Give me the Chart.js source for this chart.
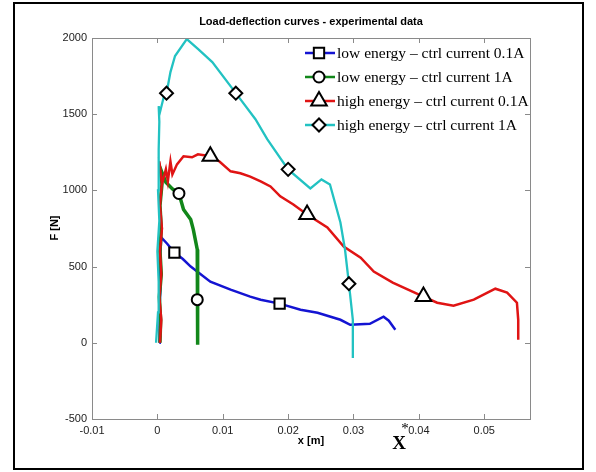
<!DOCTYPE html>
<html>
<head>
<meta charset="utf-8">
<script src="https://cdn.jsdelivr.net/npm/chart.js@4.4.1/dist/chart.umd.min.js"></script>
<style>
  html, body { margin: 0; padding: 0; background: #fff; }
  #wrap { width: 596px; height: 472px; }
</style>
</head>
<body>
<div id="wrap"><canvas id="c" width="596" height="472"></canvas></div>
<script>
// values
const seriesLabels = [
  'low energy \u2013 ctrl current 0.1A',
  'low energy \u2013 ctrl current 1A',
  'high energy \u2013 ctrl current 0.1A',
  'high energy \u2013 ctrl current 1A',
]

const lowE01_x = [0.0003, 0.0004, 0.0003, 0.0005, 0.0003, 0.0005, 0.0006, 0.0015, 0.0026, 0.0039, 0.0051, 0.0081, 0.0112, 0.0142, 0.0158, 0.0187, 0.0219, 0.0245, 0.0280, 0.0295, 0.0325, 0.0346, 0.0354, 0.0364]
const lowE01_F = [0, 120, 250, 380, 500, 620, 691, 650, 592, 550, 500, 401, 349, 303, 283, 257, 217, 197, 151, 118, 125, 171, 145, 86]
const lowE01_marks = [8, 15]

const lowE1_x = [0.0004, 0.0005, 0.0003, 0.0006, 0.0004, 0.0006, 0.0004, 0.0007, 0.0005, 0.0013, 0.0023, 0.0033, 0.0040, 0.0051, 0.0055, 0.0061, 0.0062, 0.0062, 0.0061, 0.0062, 0.0061]
const lowE1_F = [0, 150, 300, 450, 600, 750, 900, 1040, 1140, 1053, 1010, 980, 875, 809, 743, 612, 546, 400, 283, 39, -13]
const lowE1_marks = [11, 18]

const highE01_x = [0.0004, 0.0006, 0.0003, 0.0006, 0.0004, 0.0007, 0.0004, 0.0007, 0.0003, 0.0007, 0.0013, 0.0016, 0.0020, 0.0023, 0.0030, 0.0040, 0.0053, 0.0062, 0.0081, 0.0095, 0.0112, 0.0127, 0.0142, 0.0158, 0.0173, 0.0188, 0.0208, 0.0229, 0.0260, 0.0285, 0.0311, 0.0331, 0.0360, 0.0407, 0.0428, 0.0453, 0.0484, 0.0517, 0.0535, 0.0550, 0.0552, 0.0552]
const highE01_F = [0, 150, 300, 450, 600, 750, 900, 1050, 1190, 1040, 1138, 1059, 1190, 1105, 1171, 1224, 1217, 1237, 1224, 1190, 1125, 1112, 1090, 1059, 1026, 961, 908, 842, 757, 632, 559, 467, 395, 303, 263, 243, 283, 355, 329, 263, 151, 20]
const highE01_marks = [18, 27, 33]

const highE1_x = [-0.0002, 0.0001, 0.0002, 0.0000, 0.0003, 0.0001, 0.0002, 0.0003, 0.0002, 0.0004, 0.0010, 0.0014, 0.0020, 0.0027, 0.0045, 0.0062, 0.0084, 0.0120, 0.0150, 0.0168, 0.0200, 0.0234, 0.0251, 0.0264, 0.0280, 0.0287, 0.0293, 0.0299, 0.0299]
const highE1_F = [0, 200, 400, 600, 800, 1000, 1270, 1450, 1553, 1513, 1618, 1638, 1776, 1882, 1993, 1928, 1842, 1638, 1467, 1336, 1138, 1013, 1072, 1039, 789, 612, 388, 151, -99]
const highE1_marks = [11, 17, 20, 26]

const xTicks = [-0.01, 0, 0.01, 0.02, 0.03, 0.04, 0.05]
const yTicks = [-500, 0, 500, 1000, 1500, 2000]

const FONT = "'Liberation Sans', Arial, sans-serif"
const SERIF = "'Liberation Serif', 'Times New Roman', serif"

function toPoints(xs, ys) {
  return xs.map((x, i) => ({ x: x, y: ys[i] }))
}

function makeSet(label, xs, ys, marks, color, width, style, radius, order) {
  return {
    label: label,
    data: toPoints(xs, ys),
    borderColor: color,
    borderWidth: width,
    showLine: true,
    tension: 0,
    fill: false,
    pointStyle: style,
    pointRadius: (ctx) => (marks.includes(ctx.dataIndex) ? radius : 0),
    pointHoverRadius: (ctx) => (marks.includes(ctx.dataIndex) ? radius : 0),
    pointBackgroundColor: '#ffffff',
    pointBorderColor: '#000000',
    pointBorderWidth: 2,
    legendRadius: radius,
    order: order,
  }
}

// frame, box ticks, title, labels and the legend (MATLAB look)
const decorations = {
  id: 'decorations',
  afterDraw(chart) {
    const { ctx, chartArea: a, scales } = chart
    ctx.save()

    // axes box
    ctx.strokeStyle = '#8a8a8a'
    ctx.lineWidth = 1
    ctx.strokeRect(a.left + 0.5, a.top + 0.5, a.right - a.left, a.bottom - a.top)

    // inward ticks on all four sides
    ctx.beginPath()
    xTicks.forEach((v) => {
      const px = Math.round(scales.x.getPixelForValue(v)) + 0.5
      ctx.moveTo(px, a.bottom); ctx.lineTo(px, a.bottom - 5)
      ctx.moveTo(px, a.top); ctx.lineTo(px, a.top + 5)
    })
    yTicks.forEach((v) => {
      const py = Math.round(scales.y.getPixelForValue(v)) + 0.5
      ctx.moveTo(a.left, py); ctx.lineTo(a.left + 5, py)
      ctx.moveTo(a.right, py); ctx.lineTo(a.right - 5, py)
    })
    ctx.stroke()

    // title and axis labels
    ctx.fillStyle = '#000'
    ctx.textAlign = 'center'
    ctx.textBaseline = 'middle'
    ctx.font = 'bold 11px ' + FONT
    ctx.fillText('Load-deflection curves - experimental data', (a.left + a.right) / 2, 22)
    ctx.fillText('x [m]', 311, 441)
    ctx.save()
    ctx.translate(55, 228)
    ctx.rotate(-Math.PI / 2)
    ctx.fillText('F [N]', 0, 0)
    ctx.restore()

    // X* mark
    ctx.font = 'bold 19px ' + SERIF
    ctx.fillText('X', 399, 444)
    ctx.font = '15px ' + SERIF
    ctx.fillText('*', 405, 429)

    // legend
    ctx.font = '15.5px ' + SERIF
    ctx.textAlign = 'left'
    chart.data.datasets.forEach((ds, i) => {
      const y = 53 + i * 24
      ctx.strokeStyle = ds.borderColor
      ctx.lineWidth = 2.5
      ctx.beginPath()
      ctx.moveTo(305, y); ctx.lineTo(335, y)
      ctx.stroke()
      ctx.fillStyle = '#ffffff'
      ctx.strokeStyle = '#000000'
      ctx.lineWidth = 2
      Chart.helpers.drawPoint(ctx, {
        pointStyle: ds.pointStyle,
        radius: ds.legendRadius,
        rotation: 0,
        borderWidth: 2,
      }, 319, y)
      ctx.fillStyle = '#000'
      ctx.fillText(ds.label, 337, y + 1)
    })

    // outer black frame
    ctx.strokeStyle = '#000'
    ctx.lineWidth = 2
    ctx.strokeRect(14, 3, 569, 466)
    ctx.restore()
  },
}

const datasets = [
  makeSet(seriesLabels[0], lowE01_x, lowE01_F, lowE01_marks, '#1414d2', 2.5, 'rect', 7.3, 3),
  makeSet(seriesLabels[1], lowE1_x, lowE1_F, lowE1_marks, '#12871a', 3.5, 'circle', 5.5, 2),
  makeSet(seriesLabels[2], highE01_x, highE01_F, highE01_marks, '#e01414', 2.5, 'triangle', 9, 1),
  makeSet(seriesLabels[3], highE1_x, highE1_F, highE1_marks, '#22c2c2', 2.3, 'rectRot', 6.5, 0),
]

new Chart(document.getElementById('c'), {
  type: 'line',
  data: { datasets: datasets },
  options: {
    responsive: false,
    animation: false,
    layout: { padding: { top: 38, right: 66, bottom: 0, left: 0 } },
    plugins: {
      legend: { display: false },
      title: { display: false },
      tooltip: { enabled: false },
    },
    scales: {
      x: {
        type: 'linear',
        min: -0.01,
        max: 0.057,
        grid: { display: false, drawTicks: false },
        border: { display: false },
        afterFit: (s) => { s.height = 53 },
        afterBuildTicks: (s) => { s.ticks = xTicks.map((v) => ({ value: v })) },
        ticks: {
          color: '#222',
          font: { family: FONT, size: 11 },
          padding: 5,
          maxRotation: 0,
          autoSkip: false,
          callback: (v) => (v === 0 ? '0' : v.toFixed(2)),
        },
      },
      y: {
        type: 'linear',
        min: -500,
        max: 2000,
        grid: { display: false, drawTicks: false },
        border: { display: false },
        afterFit: (s) => { s.width = 92 },
        afterBuildTicks: (s) => { s.ticks = yTicks.map((v) => ({ value: v })) },
        ticks: {
          color: '#222',
          font: { family: FONT, size: 11 },
          padding: 5,
          autoSkip: false,
          callback: (v) => String(v),
        },
      },
    },
  },
  plugins: [decorations],
})
</script>
</body>
</html>
